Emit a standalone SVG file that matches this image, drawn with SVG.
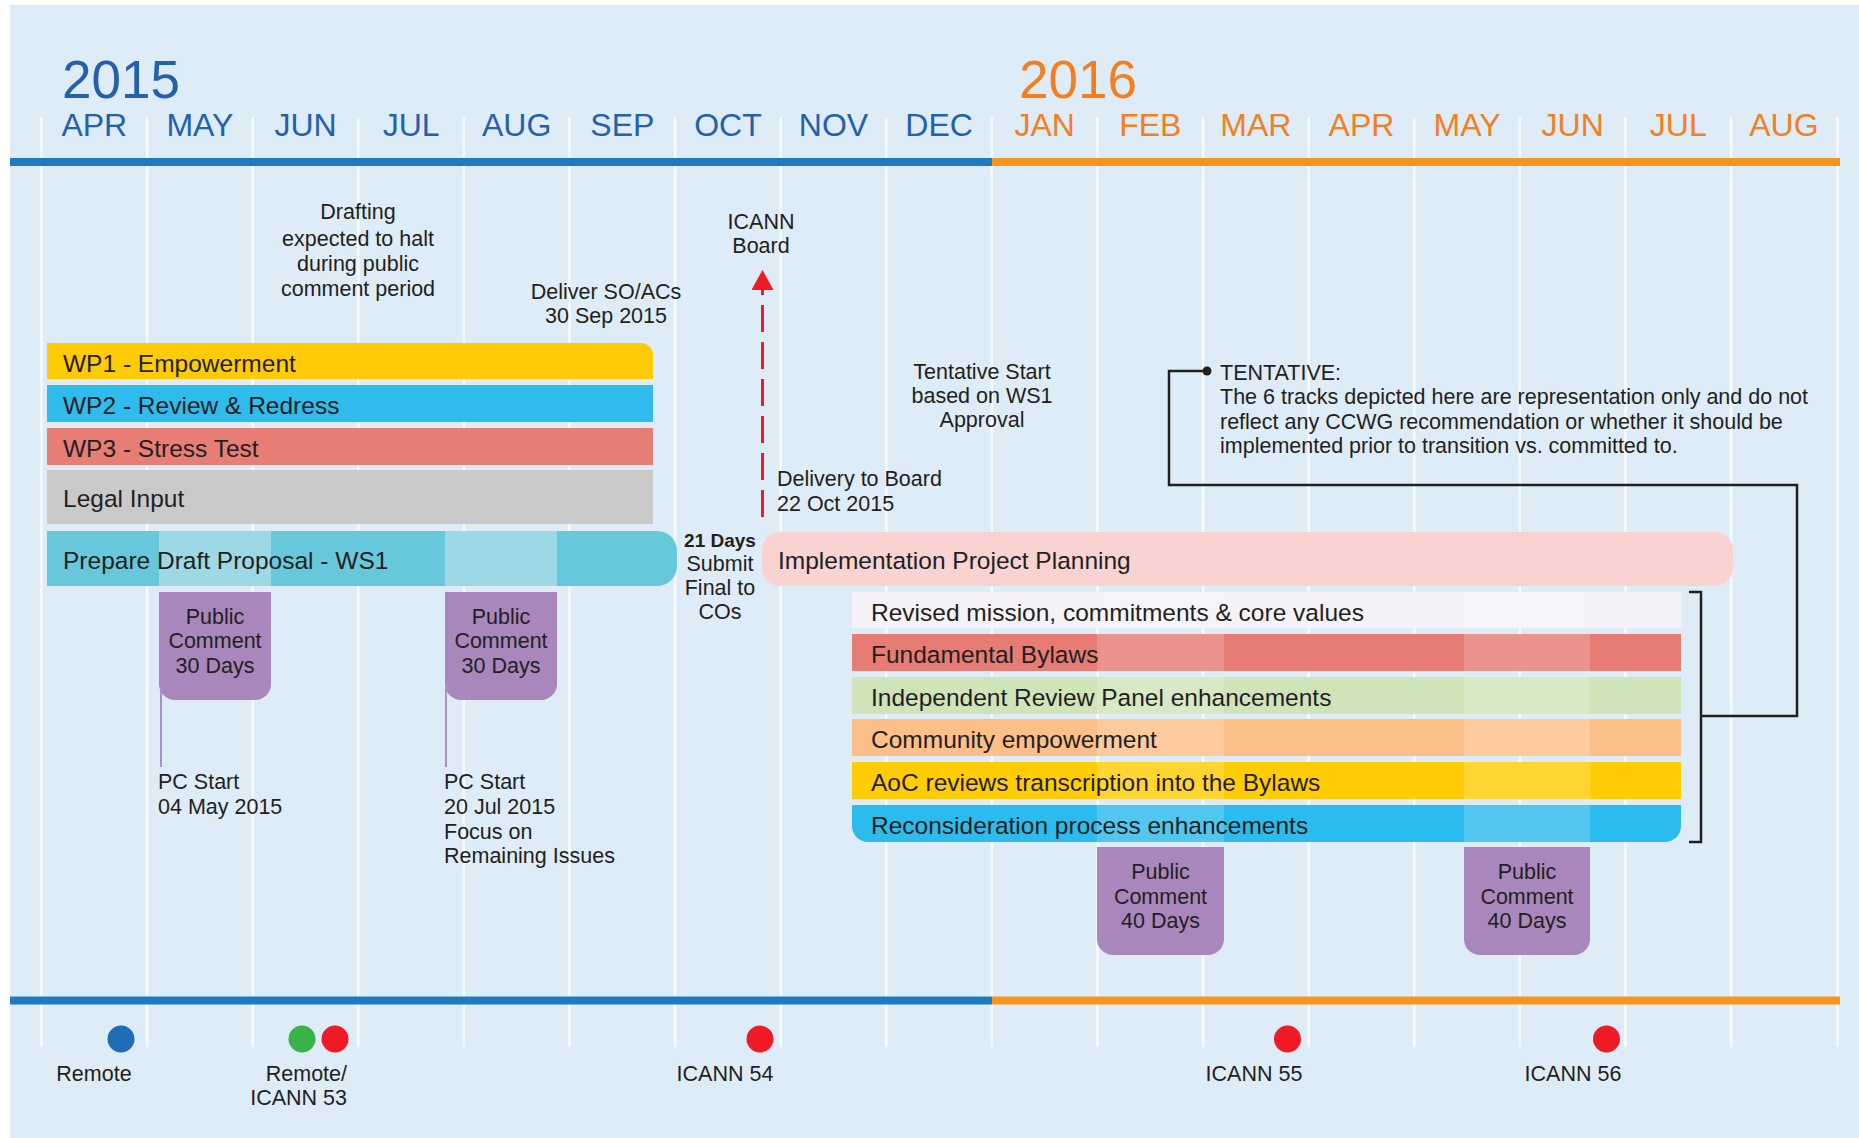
<svg xmlns="http://www.w3.org/2000/svg" width="1859" height="1138" viewBox="0 0 1859 1138">
<defs>
<style>
text{font-family:"Liberation Sans",Arial,Helvetica,sans-serif;fill:#231f20}
.yr{font-size:53px}
.mo{font-size:32px;text-anchor:middle}
.c15{fill:#2461ad}
.c16{fill:#f47f20}
.grid line{stroke:#ffffff;stroke-width:2.5;opacity:0.8}
.lbl{font-size:24.5px}
.ann{font-size:21.5px}
.mid{text-anchor:middle}
.end{text-anchor:end}
.bold{font-weight:bold;font-size:19px}
.pc{fill:#a986bc}
.ov{fill:#ffffff;opacity:0.18}
.conn{fill:none;stroke:#231f20;stroke-width:2.5}
.pcl{stroke:#b28dc2;stroke-width:2}
</style>
<marker id="arrowRed" viewBox="0 0 20 22" refX="0" refY="11" markerWidth="20" markerHeight="22" markerUnits="userSpaceOnUse" orient="auto">
<path d="M0,0 L20,11 L0,22 Z" fill="#ed1c24"/>
</marker>
</defs>

<rect id="background" x="10" y="5" width="1849" height="1133" fill="#deecf7"/>

<g id="grid" class="grid">
<line x1="41.5" y1="117" x2="41.5" y2="1047"/>
<line x1="147.1" y1="117" x2="147.1" y2="1047"/>
<line x1="252.7" y1="117" x2="252.7" y2="1047"/>
<line x1="358.3" y1="117" x2="358.3" y2="1047"/>
<line x1="463.9" y1="117" x2="463.9" y2="1047"/>
<line x1="569.5" y1="117" x2="569.5" y2="1047"/>
<line x1="675.1" y1="117" x2="675.1" y2="1047"/>
<line x1="780.7" y1="117" x2="780.7" y2="1047"/>
<line x1="886.3" y1="117" x2="886.3" y2="1047"/>
<line x1="991.9" y1="117" x2="991.9" y2="1047"/>
<line x1="1097.5" y1="117" x2="1097.5" y2="1047"/>
<line x1="1203.1" y1="117" x2="1203.1" y2="1047"/>
<line x1="1308.7" y1="117" x2="1308.7" y2="1047"/>
<line x1="1414.3" y1="117" x2="1414.3" y2="1047"/>
<line x1="1519.9" y1="117" x2="1519.9" y2="1047"/>
<line x1="1625.5" y1="117" x2="1625.5" y2="1047"/>
<line x1="1731.1" y1="117" x2="1731.1" y2="1047"/>
<line x1="1837.5" y1="117" x2="1837.5" y2="1047"/>
</g>

<g id="header">
<text class="yr c15" x="62" y="98">2015</text>
<text class="yr c16" x="1019" y="98">2016</text>
<text class="mo c15" x="94.3" y="136">APR</text>
<text class="mo c15" x="199.9" y="136">MAY</text>
<text class="mo c15" x="305.5" y="136">JUN</text>
<text class="mo c15" x="411.1" y="136">JUL</text>
<text class="mo c15" x="516.7" y="136">AUG</text>
<text class="mo c15" x="622.3" y="136">SEP</text>
<text class="mo c15" x="727.9" y="136">OCT</text>
<text class="mo c15" x="833.5" y="136">NOV</text>
<text class="mo c15" x="939.1" y="136">DEC</text>
<text class="mo c16" x="1044.7" y="136">JAN</text>
<text class="mo c16" x="1150.3" y="136">FEB</text>
<text class="mo c16" x="1255.9" y="136">MAR</text>
<text class="mo c16" x="1361.5" y="136">APR</text>
<text class="mo c16" x="1467.1" y="136">MAY</text>
<text class="mo c16" x="1572.7" y="136">JUN</text>
<text class="mo c16" x="1678.3" y="136">JUL</text>
<text class="mo c16" x="1783.9" y="136">AUG</text>
</g>

<g id="timeline-top">
<rect x="10" y="158" width="982" height="8" fill="#1f7bc1"/>
<rect x="992" y="158" width="848" height="8" fill="#f7941e"/>
</g>
<g id="timeline-bottom">
<rect x="10" y="996.5" width="982" height="8" fill="#1f7bc1"/>
<rect x="992" y="996.5" width="848" height="8" fill="#f7941e"/>
</g>

<g id="note-drafting">
<text class="ann mid" x="358" y="219">Drafting</text>
<text class="ann mid" x="358" y="246">expected to halt</text>
<text class="ann mid" x="358" y="271">during public</text>
<text class="ann mid" x="358" y="296">comment period</text>
</g>
<g id="note-deliver">
<text class="ann mid" x="606" y="299">Deliver SO/ACs</text>
<text class="ann mid" x="606" y="323">30 Sep 2015</text>
</g>
<g id="node-icann-board">
<text class="ann mid" x="761" y="229">ICANN</text>
<text class="ann mid" x="761" y="253">Board</text>
</g>
<g id="note-delivery-board">
<text class="ann" x="777" y="486">Delivery to Board</text>
<text class="ann" x="777" y="511">22 Oct 2015</text>
</g>
<g id="note-tentative-start">
<text class="ann mid" x="982" y="379">Tentative Start</text>
<text class="ann mid" x="982" y="403">based on WS1</text>
<text class="ann mid" x="982" y="427">Approval</text>
</g>
<g id="note-tentative">
<text class="ann" x="1220" y="380">TENTATIVE:</text>
<text class="ann" x="1220" y="404">The 6 tracks depicted here are representation only and do not</text>
<text class="ann" x="1220" y="429">reflect any CCWG recommendation or whether it should be</text>
<text class="ann" x="1220" y="453">implemented prior to transition vs. committed to.</text>
</g>

<g id="wp1">
<path d="M47,343 H641 A12,12 0 0 1 653,355 V379 H47 Z" fill="#ffcb08"/>
<text class="lbl" x="63" y="372">WP1 - Empowerment</text>
</g>
<g id="wp2">
<rect x="47" y="385" width="606" height="37" fill="#2fbbeb"/>
<text class="lbl" x="63" y="414">WP2 - Review &amp; Redress</text>
</g>
<g id="wp3">
<rect x="47" y="428" width="606" height="37" fill="#e77d75"/>
<text class="lbl" x="63" y="457">WP3 - Stress Test</text>
</g>
<g id="legal-input">
<rect x="47" y="470" width="606" height="54" fill="#c9c9c9"/>
<text class="lbl" x="63" y="507">Legal Input</text>
</g>
<g id="ws1">
<path d="M47,531 H657 A20,20 0 0 1 677,551 V566 A20,20 0 0 1 657,586 H47 Z" fill="#67c8dc"/>
<rect x="159" y="531" width="112" height="55" fill="#9cd9e5"/>
<rect x="445" y="531" width="112" height="55" fill="#9cd9e5"/>
<text class="lbl" x="63" y="569">Prepare Draft Proposal - WS1</text>
</g>
<g id="note-21days">
<text class="bold mid" x="720" y="547">21 Days</text>
<text class="ann mid" x="720" y="571">Submit</text>
<text class="ann mid" x="720" y="595">Final to</text>
<text class="ann mid" x="720" y="619">COs</text>
</g>
<g id="implementation-planning">
<rect x="762" y="532" width="971" height="54" rx="18" fill="#f8d3d2"/>
<text class="lbl" x="778" y="569">Implementation Project Planning</text>
</g>

<g id="pc1">
<path class="pc" d="M159,592 H271 V684 A16,16 0 0 1 255,700 H175 A16,16 0 0 1 159,684 Z"/>
<text class="ann mid" x="215" y="624">Public</text>
<text class="ann mid" x="215" y="648">Comment</text>
<text class="ann mid" x="215" y="673">30 Days</text>
</g>
<g id="pc2">
<path class="pc" d="M445,592 H557 V684 A16,16 0 0 1 541,700 H461 A16,16 0 0 1 445,684 Z"/>
<text class="ann mid" x="501" y="624">Public</text>
<text class="ann mid" x="501" y="648">Comment</text>
<text class="ann mid" x="501" y="673">30 Days</text>
</g>
<g id="pc-start-1">
<text class="ann" x="158" y="789">PC Start</text>
<text class="ann" x="158" y="814">04 May 2015</text>
</g>
<g id="pc-start-2">
<text class="ann" x="444" y="789">PC Start</text>
<text class="ann" x="444" y="814">20 Jul 2015</text>
<text class="ann" x="444" y="839">Focus on</text>
<text class="ann" x="444" y="863">Remaining Issues</text>
</g>

<g id="track-mission">
<rect x="852" y="592" width="829" height="36" fill="#f5f2f8"/>
<rect class="ov" x="1097" y="592" width="127" height="36"/>
<rect class="ov" x="1464" y="592" width="126" height="36"/>
<text class="lbl" x="871" y="621">Revised mission, commitments &amp; core values</text>
</g>
<g id="track-bylaws">
<rect x="852" y="634" width="829" height="37" fill="#e67c73"/>
<rect class="ov" x="1097" y="634" width="127" height="37"/>
<rect class="ov" x="1464" y="634" width="126" height="37"/>
<text class="lbl" x="871" y="663">Fundamental Bylaws</text>
</g>
<g id="track-irp">
<rect x="852" y="677" width="829" height="37" fill="#cfe4b9"/>
<rect class="ov" x="1097" y="677" width="127" height="37"/>
<rect class="ov" x="1464" y="677" width="126" height="37"/>
<text class="lbl" x="871" y="706">Independent Review Panel enhancements</text>
</g>
<g id="track-community">
<rect x="852" y="719" width="829" height="37" fill="#fdbf88"/>
<rect class="ov" x="1097" y="719" width="127" height="37"/>
<rect class="ov" x="1464" y="719" width="126" height="37"/>
<text class="lbl" x="871" y="748">Community empowerment</text>
</g>
<g id="track-aoc">
<rect x="852" y="762" width="829" height="37" fill="#ffcc05"/>
<rect class="ov" x="1097" y="762" width="127" height="37"/>
<rect class="ov" x="1464" y="762" width="126" height="37"/>
<text class="lbl" x="871" y="791">AoC reviews transcription into the Bylaws</text>
</g>
<g id="track-reconsideration">
<path d="M852,805 H1681 V826 A16,16 0 0 1 1665,842 H868 A16,16 0 0 1 852,826 Z" fill="#2bbbec"/>
<rect class="ov" x="1097" y="805" width="127" height="37" opacity="0.1"/>
<rect class="ov" x="1464" y="805" width="126" height="37" opacity="0.1"/>
<text class="lbl" x="871" y="834">Reconsideration process enhancements</text>
</g>

<g id="pc3">
<path class="pc" d="M1097,847 H1224 V939 A16,16 0 0 1 1208,955 H1113 A16,16 0 0 1 1097,939 Z"/>
<text class="ann mid" x="1160.5" y="879">Public</text>
<text class="ann mid" x="1160.5" y="904">Comment</text>
<text class="ann mid" x="1160.5" y="928">40 Days</text>
</g>
<g id="pc4">
<path class="pc" d="M1464,847 H1590 V939 A16,16 0 0 1 1574,955 H1480 A16,16 0 0 1 1464,939 Z"/>
<text class="ann mid" x="1527" y="879">Public</text>
<text class="ann mid" x="1527" y="904">Comment</text>
<text class="ann mid" x="1527" y="928">40 Days</text>
</g>

<g id="connectors">
<line x1="762.5" y1="517" x2="762.5" y2="290" stroke="#ed1c24" stroke-width="3" stroke-dasharray="27 10" marker-end="url(#arrowRed)"/>
<line class="pcl" x1="161" y1="688" x2="161" y2="767"/>
<line class="pcl" x1="446" y1="688" x2="446" y2="767"/>
<path class="conn" d="M1207,371 H1169 V485 H1797 V716 H1701"/>
<path class="conn" d="M1689,592 H1701 V842 H1689"/>
<circle cx="1207" cy="371" r="4.5" fill="#231f20"/>
</g>

<g id="meeting-remote">
<circle cx="121" cy="1039" r="13.5" fill="#1e6db7"/>
<text class="ann mid" x="94" y="1081">Remote</text>
</g>
<g id="meeting-icann53">
<circle cx="302" cy="1039" r="13.5" fill="#37b34a"/>
<circle cx="335" cy="1039" r="13.5" fill="#ed1c24"/>
<text class="ann end" x="347" y="1081">Remote/</text>
<text class="ann end" x="347" y="1105">ICANN 53</text>
</g>
<g id="meeting-icann54">
<circle cx="760" cy="1039" r="13.5" fill="#ed1c24"/>
<text class="ann mid" x="725" y="1081">ICANN 54</text>
</g>
<g id="meeting-icann55">
<circle cx="1287.5" cy="1039" r="13.5" fill="#ed1c24"/>
<text class="ann mid" x="1254" y="1081">ICANN 55</text>
</g>
<g id="meeting-icann56">
<circle cx="1606.5" cy="1039" r="13.5" fill="#ed1c24"/>
<text class="ann mid" x="1573" y="1081">ICANN 56</text>
</g>
</svg>
